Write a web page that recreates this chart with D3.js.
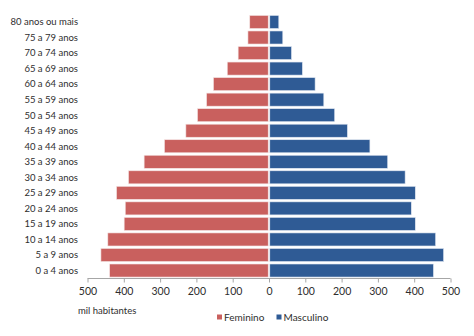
<!DOCTYPE html>
<html>
<head>
<meta charset="utf-8">
<script src="https://cdn.jsdelivr.net/npm/d3@7"></script>
<style>
  html, body { margin: 0; padding: 0; background: #fff; }
  svg { display: block; font-family: Lato, "Open Sans", sans-serif; }
</style>
</head>
<body>
<svg id="chart" width="474" height="336"></svg>
<script>
// Age groups, top to bottom
const ageGroups = [
  "80 anos ou mais", "75 a 79 anos", "70 a 74 anos", "65 a 69 anos",
  "60 a 64 anos", "55 a 59 anos", "50 a 54 anos", "45 a 49 anos",
  "40 a 44 anos", "35 a 39 anos", "30 a 34 anos", "25 a 29 anos",
  "20 a 24 anos", "15 a 19 anos", "10 a 14 anos", "5 a 9 anos", "0 a 4 anos"
];
// Population in thousands
const feminino = [53, 58, 85, 115, 153, 172, 197, 229, 288, 344, 387, 420, 396, 399, 444, 463, 439];
const masculino = [27, 38, 62, 92, 127, 151, 181, 216, 278, 327, 375, 403, 392, 403, 459, 481, 453];
const tickValues = [-500, -400, -300, -200, -100, 0, 100, 200, 300, 400, 500];
const seriesNames = ["Feminino", "Masculino"];
const colors = { Feminino: "#C9605E", Masculino: "#2F5B95" };

const svg = d3.select("#chart");
const textColor = "#2e2e2e";

const x = d3.scaleLinear().domain([-500, 500]).range([87.5, 450.5]);
const y = d3.scaleBand().domain(ageGroups).range([14.2, 278.3]).paddingInner(0.16).paddingOuter(0.08);

const gap = 0.8;

// Female bars (left side)
svg.append("g").selectAll("rect")
  .data(ageGroups.map((g, i) => ({ g, v: feminino[i] })))
  .join("rect")
  .attr("x", d => x(-d.v))
  .attr("y", d => y(d.g))
  .attr("width", d => x(0) - gap - x(-d.v))
  .attr("height", y.bandwidth())
  .attr("fill", colors.Feminino)
  .attr("stroke", "#f4e4e4")
  .attr("stroke-width", 0.6);

// Male bars (right side)
svg.append("g").selectAll("rect")
  .data(ageGroups.map((g, i) => ({ g, v: masculino[i] })))
  .join("rect")
  .attr("x", x(0) + gap)
  .attr("y", d => y(d.g))
  .attr("width", d => x(d.v) - x(0) - gap)
  .attr("height", y.bandwidth())
  .attr("fill", colors.Masculino)
  .attr("stroke", "#e2e8f2")
  .attr("stroke-width", 0.6);

// Category labels
svg.append("g").selectAll("text")
  .data(ageGroups)
  .join("text")
  .attr("x", 78)
  .attr("y", d => y(d) + y.bandwidth() / 2)
  .attr("dy", "0.35em")
  .attr("text-anchor", "end")
  .attr("font-size", 9.5)
  .attr("fill", textColor)
  .text(d => d);

// Value axis
const xAxis = d3.axisBottom(x)
  .tickValues(tickValues)
  .tickFormat(d => Math.abs(d))
  .tickSize(4)
  .tickPadding(5);
const ax = svg.append("g").attr("transform", "translate(0,278.5)").call(xAxis);
ax.select(".domain").attr("stroke", "#a6a6a6").attr("d", `M${x(-500)},0H${x(500)}`);
ax.selectAll(".tick line").attr("stroke", "#a6a6a6");
ax.selectAll(".tick text").attr("font-size", 10.5).attr("fill", textColor)
  .attr("font-family", "Lato, 'Open Sans', sans-serif");

// Axis unit
svg.append("text")
  .attr("x", 78).attr("y", 311).attr("dy", "0.35em")
  .attr("font-size", 9.5).attr("fill", textColor)
  .text("mil habitantes");

// Legend
const legend = svg.append("g");
const legendX = [217, 276.5];
seriesNames.forEach((name, i) => {
  const g = legend.append("g").attr("transform", `translate(${legendX[i]},317)`);
  g.append("rect").attr("x", 0).attr("y", -2.5).attr("width", 5).attr("height", 5).attr("fill", colors[name]);
  g.append("text").attr("x", 7).attr("y", 0).attr("dy", "0.35em")
    .attr("font-size", 10).attr("fill", textColor).text(name);
});
</script>
</body>
</html>
